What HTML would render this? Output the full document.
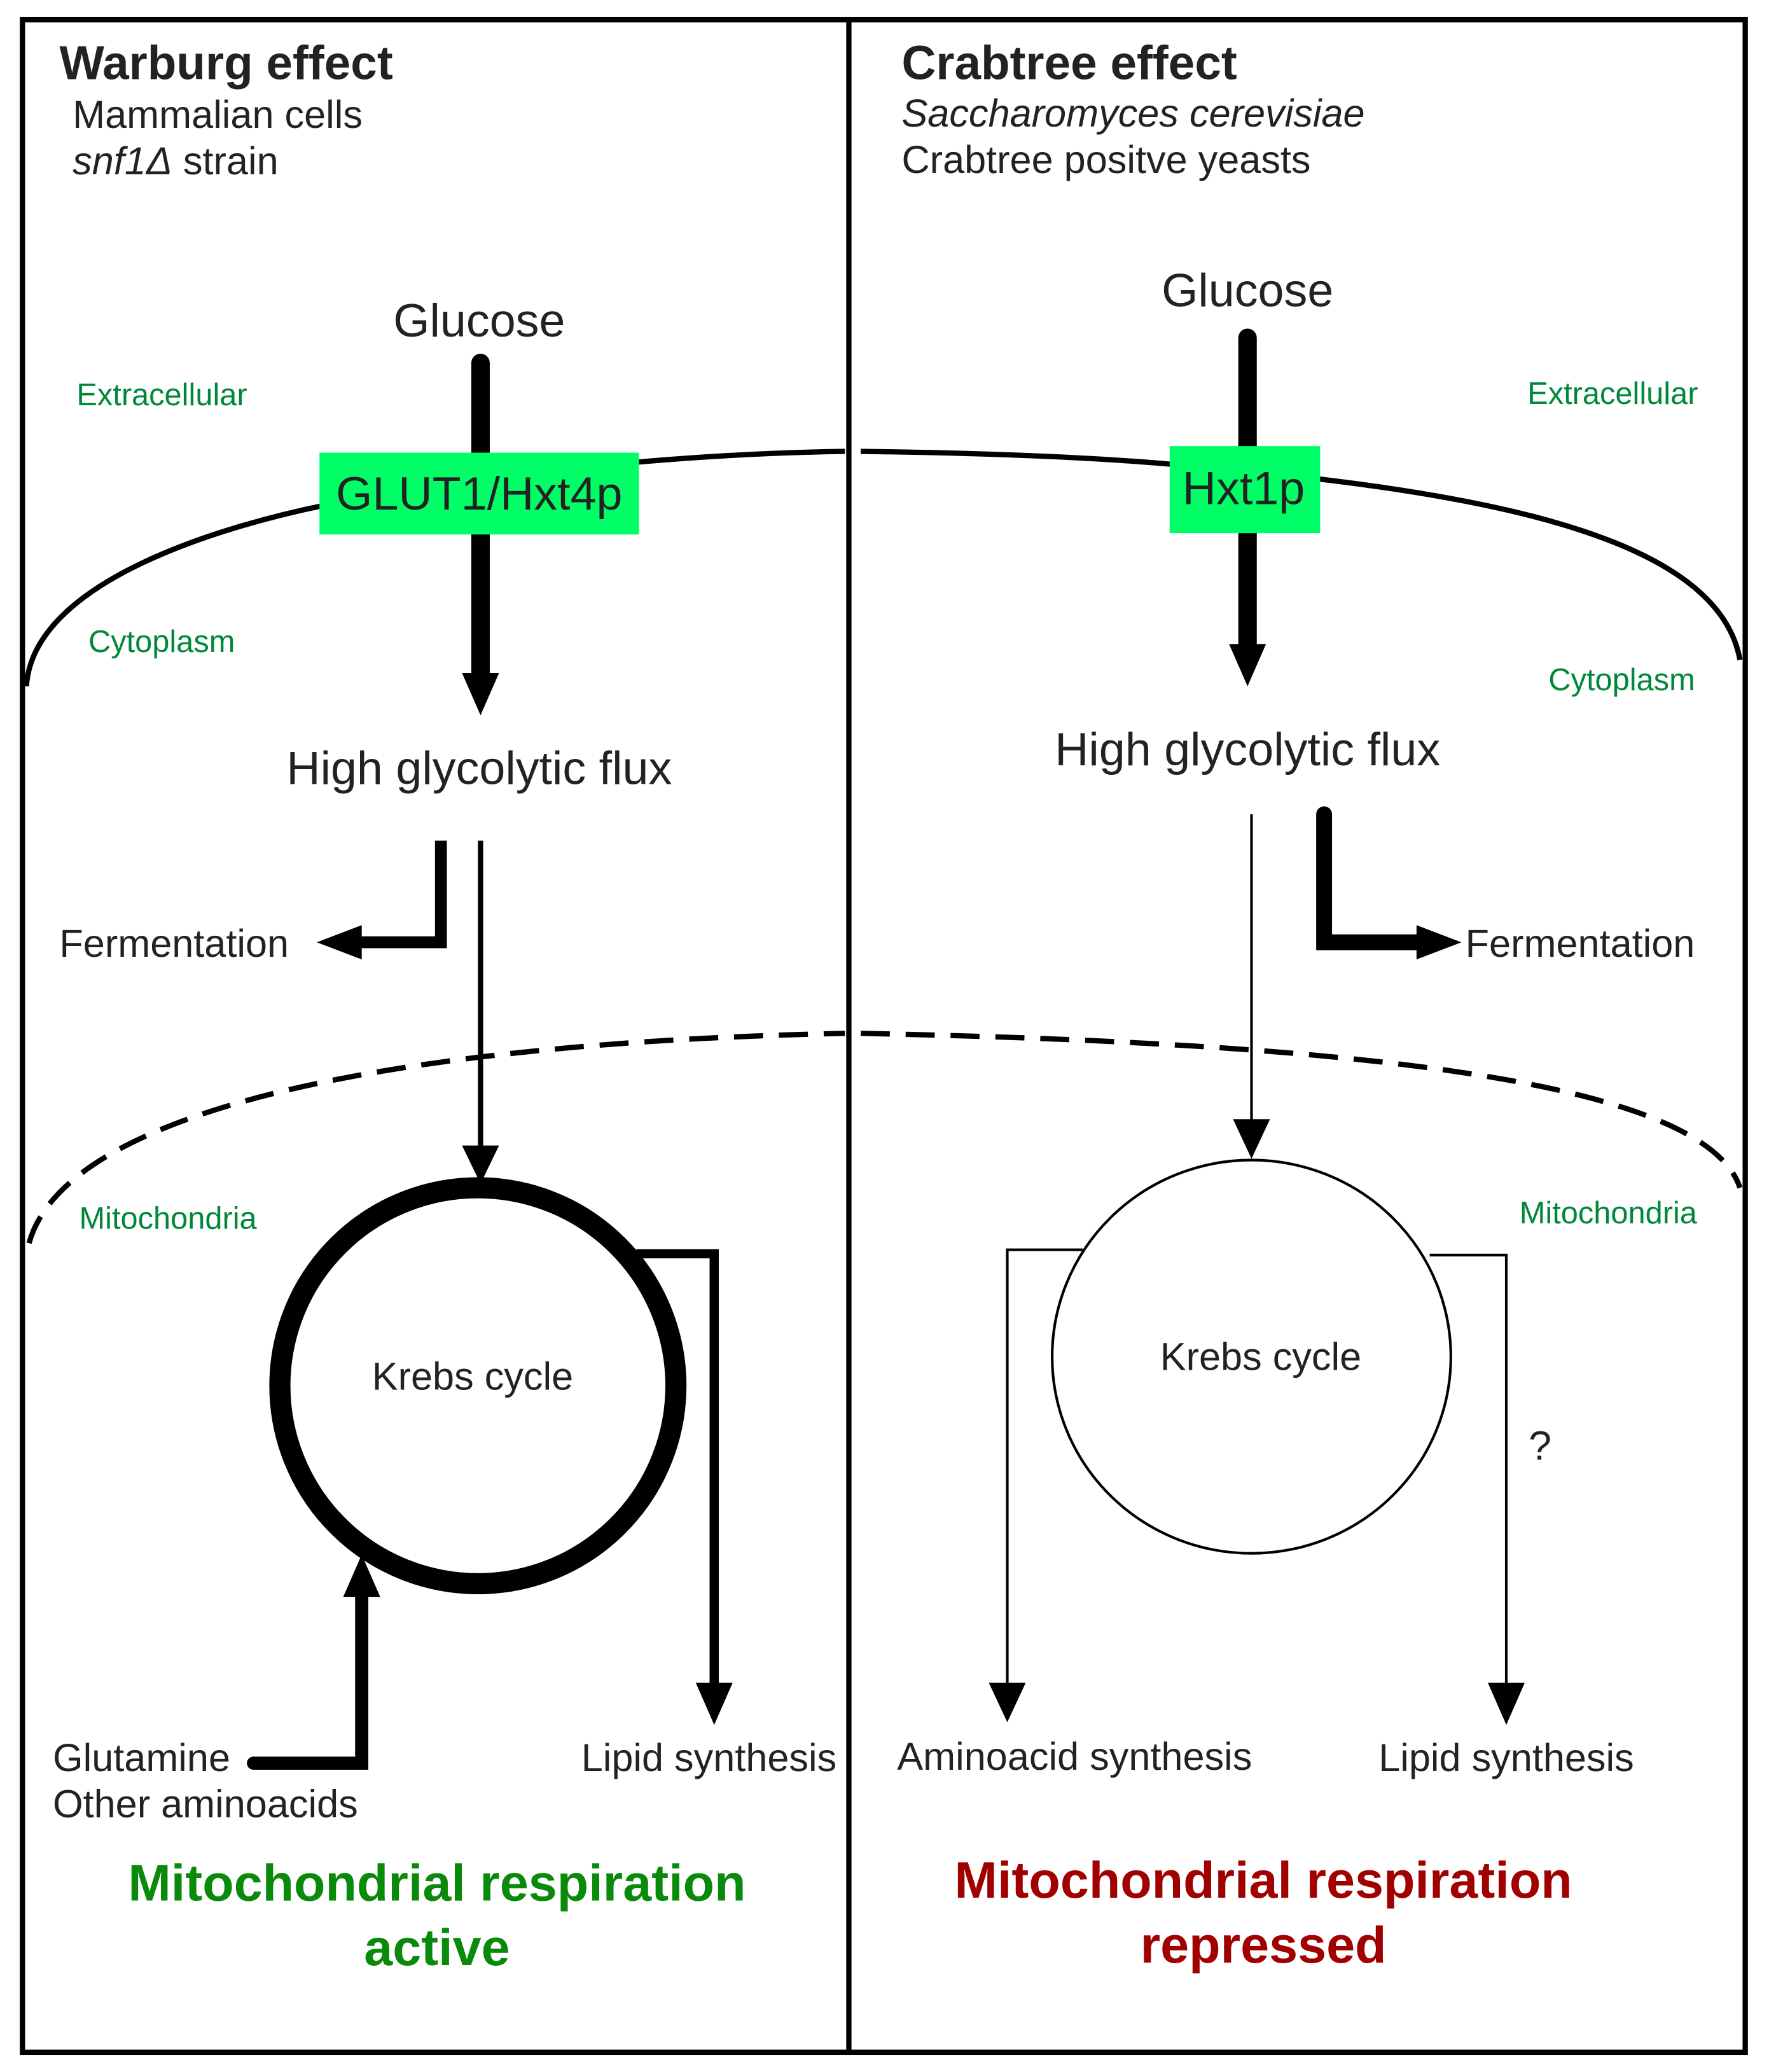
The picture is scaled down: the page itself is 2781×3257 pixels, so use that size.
<!DOCTYPE html>
<html><head><meta charset="utf-8"><style>
html,body{margin:0;padding:0;background:#fff;}
svg{display:block;}
text{font-family:"Liberation Sans","DejaVu Sans",sans-serif;fill:#222;}
.g{fill:#00883a;font-size:23.5px;}
</style></head><body>
<svg width="2781" height="3257" viewBox="0 0 1340 1570" preserveAspectRatio="none" xmlns="http://www.w3.org/2000/svg">
<rect x="0" y="0" width="1340" height="1570" fill="#fff"/>
<rect x="17" y="15" width="1305" height="1540" fill="none" stroke="#000" stroke-width="4"/>
<line x1="643" y1="15" x2="643" y2="1555" stroke="#000" stroke-width="4"/>
<path d="M20,520 C25,440 170,398 250,382 Q450,345 640,342" fill="none" stroke="#000" stroke-width="4"/>
<path d="M652,342 Q800,344 890,352 C1100,370 1300,400 1318,500" fill="none" stroke="#000" stroke-width="4"/>
<path d="M22,942 C50,840 300,790 640,783" fill="none" stroke="#000" stroke-width="4" stroke-dasharray="22,12"/>
<path d="M652,783 C1000,790 1290,815 1318,900" fill="none" stroke="#000" stroke-width="4" stroke-dasharray="22,12"/>
<text x="45" y="60" font-size="36" font-weight="bold">Warburg effect</text>
<text x="55" y="97" font-size="29.5">Mammalian cells</text>
<text x="55" y="132" font-size="29.5"><tspan font-style="italic">snf1Δ</tspan> strain</text>
<text x="683" y="60" font-size="36" font-weight="bold">Crabtree effect</text>
<text x="683" y="96" font-size="29.5" font-style="italic">Saccharomyces cerevisiae</text>
<text x="683" y="131" font-size="29.5">Crabtree positve yeasts</text>
<text class="g" x="58" y="307">Extracellular</text>
<text class="g" x="67" y="494">Cytoplasm</text>
<text class="g" x="60" y="931">Mitochondria</text>
<text class="g" x="1157" y="306">Extracellular</text>
<text class="g" x="1173" y="523">Cytoplasm</text>
<text class="g" x="1151" y="927">Mitochondria</text>
<text x="363" y="255" font-size="35.5" text-anchor="middle">Glucose</text>
<line x1="364" y1="275" x2="364" y2="512" stroke="#000" stroke-width="14" stroke-linecap="round"/>
<polygon points="350,510 378,510 364,542" fill="#000"/>
<rect x="242" y="343" width="242" height="62" fill="#00ff66"/>
<text x="363" y="386" font-size="35.5" text-anchor="middle">GLUT1/Hxt4p</text>
<text x="363" y="594" font-size="35.5" text-anchor="middle">High glycolytic flux</text>
<polyline points="334,637 334,714 270,714" fill="none" stroke="#000" stroke-width="9"/>
<polygon points="240,714 274,701 274,727" fill="#000"/>
<text x="45" y="725" font-size="29.5">Fermentation</text>
<line x1="364" y1="637" x2="364" y2="870" stroke="#000" stroke-width="4"/>
<polygon points="350,868 378,868 364,897" fill="#000"/>
<circle cx="362" cy="1050" r="150" fill="none" stroke="#000" stroke-width="16"/>
<text x="358" y="1053" font-size="29.5" text-anchor="middle">Krebs cycle</text>
<polyline points="482,950 541,950 541,1278" fill="none" stroke="#000" stroke-width="7"/>
<polygon points="527,1275 555,1275 541,1307" fill="#000"/>
<text x="537" y="1342" font-size="29.5" text-anchor="middle">Lipid synthesis</text>
<polyline points="192,1336 274,1336 274,1208" fill="none" stroke="#000" stroke-width="10" stroke-linecap="round"/>
<polygon points="274,1178 260,1210 288,1210" fill="#000"/>
<text x="40" y="1342" font-size="29.5">Glutamine</text>
<text x="40" y="1377" font-size="29.5">Other aminoacids</text>
<text x="331" y="1440" font-size="39" font-weight="bold" text-anchor="middle" style="fill:#0a8a0a">Mitochondrial respiration</text>
<text x="331" y="1489" font-size="39" font-weight="bold" text-anchor="middle" style="fill:#0a8a0a">active</text>
<text x="945" y="232" font-size="35.5" text-anchor="middle">Glucose</text>
<line x1="945" y1="256" x2="945" y2="490" stroke="#000" stroke-width="14" stroke-linecap="round"/>
<polygon points="931,488 959,488 945,520" fill="#000"/>
<rect x="886" y="338" width="114" height="66" fill="#00ff66"/>
<text x="942" y="382" font-size="35.5" text-anchor="middle">Hxt1p</text>
<text x="945" y="580" font-size="35.5" text-anchor="middle">High glycolytic flux</text>
<line x1="948" y1="617" x2="948" y2="850" stroke="#000" stroke-width="2"/>
<polygon points="934,848 962,848 948,878" fill="#000"/>
<polyline points="1003,617 1003,714 1077,714" fill="none" stroke="#000" stroke-width="12" stroke-linecap="round"/>
<polygon points="1107,714 1073,701 1073,727" fill="#000"/>
<text x="1110" y="725" font-size="29.5">Fermentation</text>
<ellipse cx="948" cy="1028" rx="151" ry="149" fill="none" stroke="#000" stroke-width="2"/>
<text x="955" y="1038" font-size="29.5" text-anchor="middle">Krebs cycle</text>
<polyline points="820,947 763,947 763,1277" fill="none" stroke="#000" stroke-width="2"/>
<polygon points="749,1275 777,1275 763,1305" fill="#000"/>
<text x="814" y="1341" font-size="29.5" text-anchor="middle">Aminoacid synthesis</text>
<polyline points="1083,951 1141,951 1141,1277" fill="none" stroke="#000" stroke-width="2"/>
<polygon points="1127,1275 1155,1275 1141,1307" fill="#000"/>
<text x="1158" y="1106" font-size="31">?</text>
<text x="1141" y="1342" font-size="29.5" text-anchor="middle">Lipid synthesis</text>
<text x="957" y="1438" font-size="39" font-weight="bold" text-anchor="middle" style="fill:#a00000">Mitochondrial respiration</text>
<text x="957" y="1487" font-size="39" font-weight="bold" text-anchor="middle" style="fill:#a00000">repressed</text>
</svg>
</body></html>
